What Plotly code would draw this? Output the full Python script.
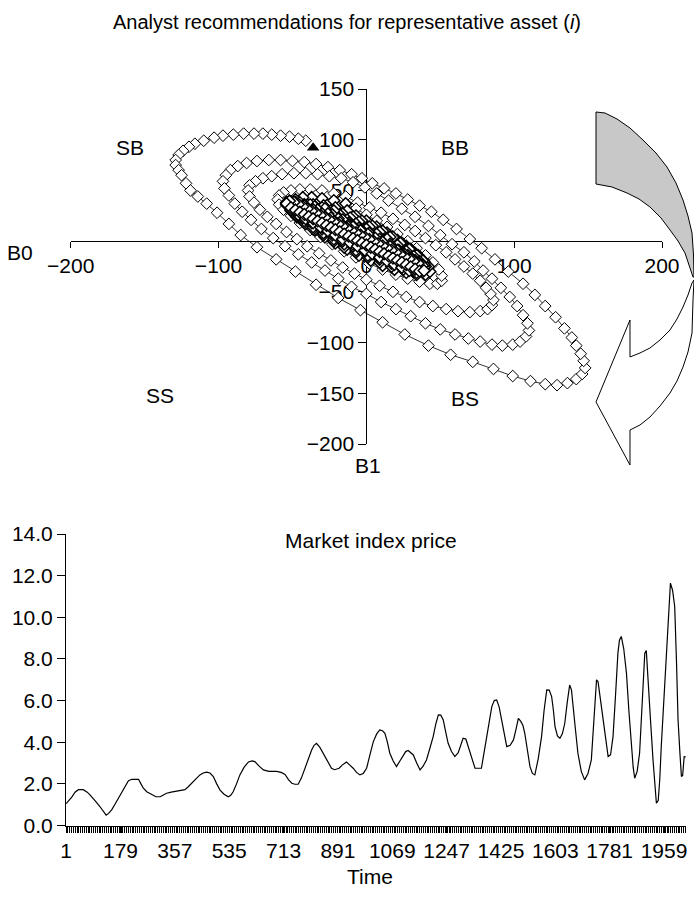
import plotly.graph_objects as go

W, H = 694, 897

# ---------------- data: analyst recommendation trajectory (B0, B1) ----------------
LOOP_A = [(-41,99),(-46,101),(-52,103),(-58,104),(-64,105),(-70,106),(-76,106),(-83,106),(-90,105),
          (-97,104),(-103,102),(-110,99),(-116,96),(-120,93),(-124,89),(-127,85),(-129,80),(-129,75),
          (-127,70),(-125,65),(-122,57),(-119,50),(-114,44),(-108,37),(-101,28),(-93,17),(-85,6),
          (-74,-6),(-61,-18),(-48,-30),(-34,-43),(-19,-56),(-4,-68),(11,-80),(26,-92),(42,-103),
          (57,-112),(72,-119),(86,-126),(99,-133),(111,-138),(121,-141),(129,-142),(136,-140),
          (142,-136),(146,-131),(148,-125),(147,-118),(145,-111),(142,-103),(139,-95),(134,-86),
          (128,-75),(121,-64),(114,-53),(106,-42),(96,-30),(87,-18),(78,-7),(70,2),(61,12),(52,21),
          (44,29),(36,35),(28,41),(20,47),(12,52),(4,57),(-3,62),(-10,66)]
LOOP_B = [(-18,70),(-26,73),(-34,76),(-42,78),(-50,79),(-58,80),(-66,80),(-74,79),(-81,77),(-87,74),
          (-92,70),(-95,65),(-97,59),(-96,52),(-93,45),(-89,37),(-84,29),(-78,21),(-71,12),(-63,3),
          (-55,-5),(-46,-13),(-37,-21),(-28,-29),(-19,-37),(-10,-45),(0,-52),(10,-60),(20,-67),
          (30,-74),(40,-81),(50,-87),(60,-92),(69,-96),(77,-99),(85,-102),(92,-103),(99,-102),
          (104,-99),(108,-94),(110,-88),(109,-81),(106,-73),(102,-64),(97,-55),(91,-46),(85,-37),
          (79,-29),(73,-20),(66,-11),(58,-3),(50,6),(42,15),(33,24),(24,32),(15,40),(7,47),(-1,53),(-9,58)]
LOOP_C = [(-17,62),(-25,64),(-33,66),(-41,67),(-49,67),(-57,66),(-64,64),(-70,62),(-75,59),(-79,55),
          (-80,50),(-79,44),(-76,38),(-72,31),(-67,24),(-61,17),(-54,9),(-47,2),(-40,-5),(-32,-12),
          (-24,-19),(-16,-26),(-8,-32),(0,-38),(9,-44),(18,-50),(27,-55),(36,-60),(45,-64),(54,-67),
          (62,-69),(70,-70),(77,-69),(82,-67),(85,-63),(86,-58),(84,-52),(81,-46),(77,-39),(72,-32),
          (66,-25),(60,-18),(54,-11),(47,-4),(40,3),(33,10),(26,16),(18,22),(10,28),(2,33),(-6,38)]
LOOP_D = [(-14,44),(-22,47),(-30,50),(-38,51),(-45,51),(-51,50),(-56,48),(-59,45),(-60,41),(-59,36),
          (-56,31),(-51,25),(-45,18),(-38,11),(-31,4),(-23,-3),(-15,-10),(-7,-16),(2,-22),(11,-28),
          (20,-33),(28,-37),(36,-40),(43,-42),(48,-42),(51,-39),(51,-34),(49,-28),(45,-21),(40,-14),
          (34,-7),(28,0),(21,7),(14,14),(7,20),(0,26),(-7,32)]
LOOP_E = [(-14,37),(-22,40),(-30,42),(-37,43),(-43,43),(-48,41),(-52,39),(-53,35),(-51,30),(-47,24),
          (-41,17),(-35,11),(-28,4),(-21,-2),(-13,-8),(-5,-14),(3,-19),(11,-24),(19,-28),(27,-31),
          (34,-33),(40,-33),(43,-30),(42,-25),(38,-19),(33,-12),(27,-5),(21,1),(14,8),(7,14),(0,20),(-7,25)]
LOOP_F = [(-13,30),(-21,33),(-29,35),(-36,36),(-42,36),(-47,35),(-50,33),(-50,29),(-47,24),(-42,18),
          (-36,12),(-29,6),(-22,0),(-15,-6),(-7,-11),(1,-16),(9,-21),(17,-25),(25,-28),(32,-29),
          (37,-28),(40,-25),(39,-20),(35,-14),(30,-8),(24,-2),(18,4),(11,10),(4,15),(-3,20),(-9,24)]
LOOP_G = [(-16,27),(-24,30),(-31,32),(-38,33),(-44,33),(-48,32),(-49,29),(-47,25),(-42,20),(-36,14),
          (-29,8),(-22,2),(-15,-3),(-7,-9),(1,-14),(9,-18),(17,-22),(24,-25),(31,-26),(36,-26),
          (39,-23),(38,-19),(34,-14),(29,-8),(23,-2),(16,4),(9,9),(2,14),(-5,19),(-11,23)]
LOOP_H = [(-18,26),(-26,29),(-33,31),(-40,32),(-45,32),(-48,30),(-47,27),(-43,23),(-37,18),(-30,12),
          (-23,6),(-16,0),(-9,-5),(-1,-10),(7,-15),(15,-19),(22,-22),(29,-24),(34,-25),(37,-23),
          (36,-20),(32,-15),(27,-10),(21,-4),(14,2),(7,7),(0,12),(-7,17),(-13,21)]
LOOP_I = [(-20,25),(-27,27),(-34,29),(-40,30),(-45,30),(-46,28),(-43,25),(-37,20),(-30,14),(-23,8),
          (-16,3),(-9,-3),(-1,-8),(7,-13),(15,-17),(22,-20),(28,-22),(33,-23),(35,-22),(33,-19),
          (28,-14),(22,-9),(16,-3),(9,2),(2,8),(-5,13),(-12,18)]
LOOP_J = [(-19,22),(-26,25),(-33,27),(-39,29),(-44,30),(-45,29),(-41,26),(-35,21),(-28,16),(-21,10),
          (-14,5),(-7,-1),(0,-6),(8,-11),(15,-15),(22,-19),(28,-21),(32,-22),(33,-21),(29,-17),
          (23,-12),(17,-7),(10,-1),(3,4),(-4,10),(-11,15),(-17,19),(-24,23)]
LOOP_K = [(-22,30),(-30,33),(-38,36),(-45,38),(-51,39),(-54,38),(-52,35),(-46,30),(-39,24),(-32,18),
          (-25,12),(-18,7),(-10,1),(-2,-4),(6,-9),(14,-14),(21,-18),(28,-22),(34,-25),(38,-27),
          (37,-25),(32,-20),(26,-15),(19,-9),(12,-3),(5,3),(-2,9),(-9,15),(-16,21),(-23,26)]
LOOP_L = [(-28,32),(-35,34),(-42,36),(-48,37),(-50,35),(-46,31),(-40,26),(-33,20),(-26,14),(-19,9),
          (-12,3),(-4,-2),(4,-7),(12,-12),(19,-16),(26,-20),(32,-24),(36,-26),(34,-24),(29,-19),
          (23,-13),(16,-7),(9,-2),(2,4),(-5,10),(-12,16),(-19,22),(-26,27),(-33,31)]
LOOP_M = [(-10,10),(-15,14),(-20,17.5),(-25,21),(-30,24.5),(-35,28),(-40,31.5),(-45,35),(-50,38),
          (-53,38),(-52,34),(-48,31),(-43,27),(-38,23.5),(-33,20),(-28,16),(-23,12.5),(-18,9),
          (-13,5.5),(-8,2),(-3,-1.5),(2,-5),(7,-9),(12,-12.5),(17,-16),(22,-19.5),(27,-23),(32,-26.5),
          (36,-29),(38,-27),(35,-22.5),(30,-19),(25,-15.5),(20,-12),(15,-8.5),(10,-5),(5,-1),(0,2.5),
          (-5,6),(-10,9.5)]
LOOP_N = [(-12,14),(-18,18.5),(-24,23),(-30,27),(-36,31),(-42,35),(-48,38.5),(-52,39),(-54,36),
          (-51,31),(-46,26),(-41,22),(-36,18),(-31,14),(-26,10),(-21,6),(-16,2),(-11,-1.5),(-6,-5),
          (-1,-9),(4,-12.5),(9,-16),(14,-19.5),(19,-23),(24,-26),(29,-29),(34,-31),(38,-30),(39,-26),
          (36,-22),(31,-17.5),(26,-13),(21,-9),(16,-5),(11,-1),(6,3),(1,7),(-4,10.5),(-9,14)]
LOOP_O = [(-14,10),(-19,13.5),(-24,17),(-29,20.5),(-34,24),(-39,27.5),(-44,31),(-49,34.5),(-53,37),
          (-50,34),(-46,31),(-41,27),(-36,23.5),(-31,20),(-26,16),(-21,12.5),(-16,9),(-11,5.5),(-6,2),
          (-1,-1.5),(4,-5),(9,-8.5),(14,-11),(19,-14.5),(24,-18),(29,-21.5),(34,-25),(37,-27),
          (33,-22.5),(28,-19),(23,-15.5),(18,-12),(13,-8.5),(8,-5),(3,-1.5),(-2,2),(-7,5.5),(-12,9)]
LOOP_P = [(38,-24),(35,-21.8),(32,-19.7),(29,-17.5),(26,-15.4),(23,-13.2),(20,-11.1),(17,-8.9),
          (14,-6.8),(11,-4.6),(8,-2.5),(5,-0.3),(2,1.8),(-1,4),(-4,6.1),(-7,8.3),(-10,10.5),(-13,12.6),
          (-16,14.8),(-19,16.9),(-22,19.1),(-25,21.2),(-28,23.4),(-31,25.5),(-34,27.7),(-37,29.8),
          (-40,32),(-43,34.1),(-46,36.3),(-49,38.4),(-52,39.6)]
LOOP_Q = [(-54,37),(-51,33),(-48,30.7),(-45,28.5),(-42,26.4),(-39,24.2),(-36,22.1),(-33,19.9),
          (-30,17.8),(-27,15.6),(-24,13.5),(-21,11.3),(-18,9.2),(-15,7),(-12,4.9),(-9,2.7),(-6,0.6),
          (-3,-1.7),(0,-3.8),(3,-6),(6,-8.1),(9,-10.3),(12,-12.4),(15,-14.6),(18,-16.7),(21,-18.9),
          (24,-21),(27,-23.2),(30,-25.3),(33,-27.5),(36,-29.6),(39,-29)]
START_B0 = [-36]
START_B1 = [92]

B_TICKS_X = [-200, -100, 0, 100, 200]
B_TICK_TEXT_X = ["\u2212200", "\u2212100", "0", "100", "200"]
B_TICKS_Y = [150, 100, 50, 0, -50, -100, -150, -200]
B_TICK_TEXT_Y = ["150", "100", "50", "", "\u221250", "\u2212100", "\u2212150", "\u2212200"]
QUADRANTS = ["SB", "BB", "SS", "BS"]

# ---------------- data: market index price ----------------
TIME = [1,10,20,30,41,57,70,79,90,101,112,123,132,140,150,160,172,183,194,205,216,238,246,254,265,281,
        295,309,320,330,345,363,378,390,400,412,425,439,450,461,472,483,494,505,518,532,540,548,559,570,
        584,598,610,619,633,647,665,690,705,718,729,740,750,761,772,783,794,805,813,821,832,843,856,870,
        880,895,905,914,919,930,941,952,963,974,985,996,1007,1018,1028,1037,1045,1053,1061,1072,1083,
        1094,1105,1113,1121,1130,1138,1149,1160,1170,1181,1192,1203,1212,1220,1228,1236,1244,1252,1263,
        1274,1285,1294,1301,1310,1318,1329,1340,1361,1370,1378,1386,1395,1403,1411,1419,1427,1435,1444,
        1455,1466,1474,1482,1490,1497,1503,1511,1520,1528,1536,1547,1558,1566,1575,1583,1591,1597,1602,
        1610,1618,1626,1634,1642,1650,1656,1661,1669,1677,1688,1699,1710,1721,1729,1738,1743,1748,1756,
        1765,1776,1784,1792,1800,1808,1813,1819,1827,1836,1844,1852,1858,1863,1871,1879,1888,1896,1901,
        1907,1915,1923,1929,1934,1940,1945,1950,1958,1966,1973,1980,1987,1994,2000,2005,2011,2016,2020,
        2025,2030]
PRICE = [1.05,1.2,1.38,1.6,1.72,1.72,1.6,1.47,1.3,1.1,0.9,0.65,0.5,0.58,0.75,1.0,1.3,1.6,1.9,2.15,2.22,
         2.22,2.0,1.79,1.62,1.47,1.38,1.38,1.45,1.55,1.6,1.65,1.68,1.72,1.85,2.03,2.25,2.43,2.52,2.56,
         2.52,2.35,2.0,1.7,1.5,1.38,1.45,1.62,2.0,2.43,2.8,3.05,3.1,3.07,2.85,2.67,2.6,2.6,2.55,2.45,2.2,
         2.03,1.98,1.98,2.3,2.75,3.2,3.63,3.85,3.95,3.75,3.47,3.1,2.75,2.68,2.75,2.9,2.99,3.05,2.9,2.75,
         2.55,2.43,2.5,2.75,3.4,4.03,4.4,4.59,4.55,4.43,4.0,3.47,3.1,2.83,3.1,3.39,3.55,3.6,3.5,3.39,
         3.0,2.67,2.85,3.15,3.7,4.27,4.9,5.31,5.3,5.07,4.5,3.95,3.55,3.31,3.5,3.9,4.19,4.15,3.79,3.2,
         2.75,2.75,3.5,4.27,5.0,5.71,6.0,6.03,5.7,5.07,4.4,3.79,3.85,4.11,4.6,5.15,5.0,4.8,4.43,3.6,
         2.83,2.5,2.43,3.2,4.27,5.5,6.51,6.5,6.19,5.5,4.75,4.3,4.19,4.4,4.91,5.9,6.75,6.5,5.87,4.6,
         3.47,2.6,2.19,2.5,3.15,5.0,7.0,6.9,6.36,5.3,4.27,3.31,3.4,4.27,6.2,8.28,8.9,9.08,8.5,7.32,5.5,
         3.79,2.8,2.27,2.6,3.47,6.0,8.28,8.4,7.15,5.0,3.15,1.8,1.07,1.2,2.2,3.79,6.0,8.28,10.3,11.64,
         11.3,10.52,7.8,5.07,3.5,2.35,2.4,3.31,3.3]
TIME_TICKS = [1, 179, 357, 535, 713, 891, 1069, 1247, 1425, 1603, 1781, 1959]
PRICE_TICKS = [0, 2, 4, 6, 8, 10, 12, 14]

# ---------------- layout geometry (pixels -> paper) ----------------
def px(x):
    return x / W

def py(y):
    return 1 - y / H

FONT = "Liberation Sans, Arial, Helvetica, sans-serif"
FS = 21

top_xdom = [px(70.7), px(662)]
top_ydom = [py(444), py(89)]
top_xr = [-200, 200]
top_yr = [-200, 150]
xaxis_pos = top_ydom[0] + (0 - top_yr[0]) / (top_yr[1] - top_yr[0]) * (top_ydom[1] - top_ydom[0])
yaxis_pos = top_xdom[0] + (0 - top_xr[0]) / (top_xr[1] - top_xr[0]) * (top_xdom[1] - top_xdom[0])

bot_xdom = [px(66), px(686)]
bot_ydom = [py(825.5), py(534)]

outer = LOOP_A + LOOP_B + LOOP_C + LOOP_D
core = (LOOP_E + LOOP_F + LOOP_G + LOOP_H + LOOP_I + LOOP_J + LOOP_K + LOOP_L + LOOP_M + LOOP_N
        + LOOP_O + LOOP_P + LOOP_Q)
traj = outer + core
b0 = [p[0] for p in traj]
b1 = [p[1] for p in traj]
edge_w = [1.0] * len(outer) + [1.5] * len(core)

fig = go.Figure()
fig.add_trace(go.Scatter(
    x=b0, y=b1, mode="lines+markers", xaxis="x", yaxis="y",
    line=dict(color="black", width=0.8),
    marker=dict(symbol="diamond", size=9, color="white", line=dict(color="black", width=edge_w)),
    showlegend=False, hoverinfo="skip"))
fig.add_trace(go.Scatter(
    x=START_B0, y=START_B1, mode="markers", xaxis="x", yaxis="y",
    marker=dict(symbol="triangle-up", size=11, color="black"),
    showlegend=False, hoverinfo="skip"))
fig.add_trace(go.Scatter(
    x=TIME, y=PRICE, mode="lines", xaxis="x2", yaxis="y2",
    line=dict(color="black", width=1.2),
    showlegend=False, hoverinfo="skip"))

axis_font = dict(family=FONT, size=FS, color="black")

fig.update_layout(
    width=W, height=H,
    margin=dict(l=0, r=0, t=0, b=0, autoexpand=False),
    paper_bgcolor="white", plot_bgcolor="rgba(0,0,0,0)",
    font=dict(family=FONT, size=FS, color="black"),
    xaxis=dict(domain=top_xdom, range=top_xr, anchor="free", position=xaxis_pos, automargin=False,
               showgrid=False, zeroline=False, showline=True, linecolor="black", linewidth=1,
               tickvals=B_TICKS_X, ticktext=B_TICK_TEXT_X, ticks="outside", ticklen=6,
               tickcolor="black", tickfont=axis_font, layer="below traces"),
    yaxis=dict(domain=top_ydom, range=top_yr, anchor="free", position=yaxis_pos, automargin=False,
               showgrid=False, zeroline=False, showline=True, linecolor="black", linewidth=1,
               tickvals=B_TICKS_Y, ticktext=B_TICK_TEXT_Y, ticks="outside", ticklen=8,
               tickcolor="black", tickfont=axis_font, layer="below traces"),
    xaxis2=dict(domain=bot_xdom, range=[0.5, 2031], anchor="y2", automargin=False,
                showgrid=False, zeroline=False, showline=True, linecolor="black", linewidth=1,
                tickvals=TIME_TICKS, ticktext=[str(t) for t in TIME_TICKS], ticks="outside",
                ticklen=6, tickcolor="black", tickfont=axis_font,
                minor=dict(ticks="outside", tick0=1, dtick=6, ticklen=6, tickcolor="black",
                           tickwidth=1, showgrid=False)),
    yaxis2=dict(domain=bot_ydom, range=[0, 14], anchor="x2", automargin=False,
                showgrid=False, zeroline=False, showline=True, linecolor="black", linewidth=1,
                tickvals=PRICE_TICKS, tickformat=".1f", ticks="outside", ticklen=8,
                tickcolor="black", tickfont=axis_font),
)

def label(text, x, y, size=FS):
    fig.add_annotation(text=text, x=px(x), y=py(y), xref="paper", yref="paper",
                       showarrow=False, xanchor="center", yanchor="middle",
                       font=dict(family=FONT, size=size, color="black"))

label("Analyst recommendations for representative asset (<i>i</i>)", 347, 22, size=20)
for name, (lx, ly) in zip(QUADRANTS, [(130, 148), (455, 148), (160, 395), (465, 398)]):
    label(name, lx, ly)
label("B0", 20, 252)
label("B1", 368, 466)
label("Market index price", 371, 540)
label("Time", 370, 876)

# decorative curved arrow on the right of the upper chart
def path_from(points):
    return "M " + " L ".join(f"{px(a):.5f},{py(b):.5f}" for a, b in points) + " Z"

gray_band = [(596,112),(605,113),(617,119),(630,128),(643,140),(656,153),(667,167),(676,183),(683,200),
             (688,216),(692,233),(693.5,255),(694,277),(693,277),(689,265),(685,253),(678,241),(670,230),
             (661,218),(650,207),(639,199),(627,193),(612,187),(596,184)]
white_arrow = [(694,280),(693,300),(692,333),(688,352),(683,367),(677,381),(670,393),(660,406),(650,417),
               (640,425),(630,430),(630,465),(596,402),(630,320),(630,357),(640,353),(650,348),(660,340),
               (670,330),(677,319),(683,307),(688,295),(692,283)]
fig.add_shape(type="path", path=path_from(gray_band), xref="paper", yref="paper",
              fillcolor="#c8c8c8", line=dict(color="black", width=1), layer="above")
fig.add_shape(type="path", path=path_from(white_arrow), xref="paper", yref="paper",
              fillcolor="white", line=dict(color="black", width=1), layer="above")

fig.write_html("out.html")
